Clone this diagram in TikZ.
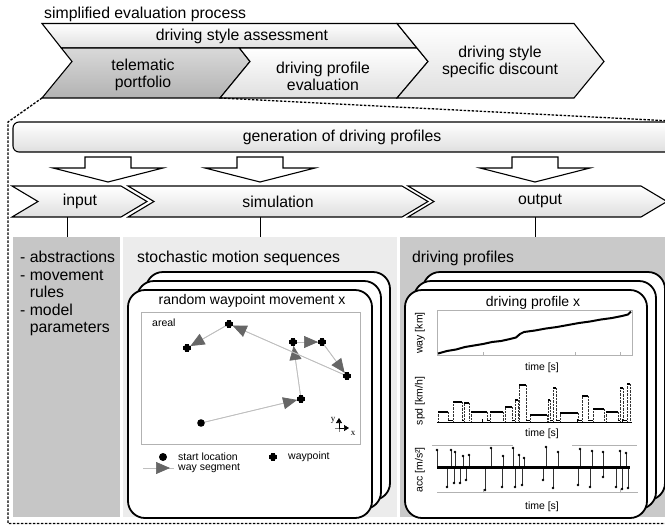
\documentclass[tikz,border=0pt]{standalone}
\usepackage{fontspec}
\setmainfont{Liberation Sans}
\newfontfamily\axisfont{Liberation Serif}
\usetikzlibrary{arrows.meta}
\newcommand{\bigtext}{\fontsize{15.8}{17.5}\selectfont}
\newcommand{\midtext}{\fontsize{14}{16}\selectfont}
\newcommand{\smalltext}{\fontsize{10.5}{12}\selectfont}

\begin{document}
\begin{tikzpicture}[x=1pt, y=-1pt, every node/.append style={text=black, font=\bigtext, inner sep=0pt},
	chev/.style={draw, line width=1.1pt, top color=white, bottom color=gray!25},
	darkchev/.style={draw, line width=1.1pt, top color=gray!30, bottom color=gray!60},
	blockarr/.style={draw, line width=1.1pt, fill=white},
	zoomline/.style={line width=1.3pt, dash pattern=on 2.5pt off 1.5pt},
	panel/.style={anchor=north west, inner sep=0pt, outer sep=0pt},
	card/.style={draw, line width=1.8pt, fill=white, rounded corners=17pt},
	seg/.style={draw=gray!50, line width=0.7pt, postaction={draw=gray!50, shorten >=4pt, -{Triangle[length=14pt, width=12pt, color=gray!80!black]}}},
	wayp/.pic={\fill (-4.2,-1.9) rectangle (4.2,1.9); \fill (-1.9,-4.2) rectangle (1.9,4.2); \fill (0,0) circle (3.4);},
	thinax/.style={draw=gray!60, line width=0.6pt},
	small/.style={font=\smalltext}]
\useasboundingbox (0,0) rectangle (665,528);

	\node[anchor=west] (title) at (44,14) {simplified evaluation process};
	\draw[chev] (42,23.5) -- (397,23.5) -- (417,48) -- (61.3,48) -- cycle;
	\draw[darkchev] (61.3,48) -- (72,61.5) -- (42,98) -- (220,98) -- (250,61.5) -- (239.4,48) -- cycle;
	\draw[chev] (239.4,48) -- (250,61.5) -- (220,98) -- (397,98) -- (428,61.5) -- (417,48) -- cycle;
	\draw[chev] (397,23.5) -- (574,23.5) -- (604,61.5) -- (574,98) -- (397,98) -- (428,61.5) -- cycle;
	\node (dsa) at (242,36.5) {driving style assessment};
	\node[align=center] (tele) at (143,75) {telematic\\portfolio};
	\node[align=center] (dpe) at (323,76.5) {driving profile\\evaluation};
	\node[align=center] (dssd) at (500,62) {driving style\\specific discount};

	\coordinate (zl) at (42,98);
	\coordinate (zr) at (220,98);
	\draw[zoomline] (zl) -- (8,122) -- (8,523.5) -- (665,523.5);
	\draw[zoomline] (zr) -- (672,121);

	\node[panel, draw, line width=1.1pt, rounded corners=6pt, top color=white, bottom color=gray!25, minimum width=680pt, minimum height=30pt] (gen) at (13,122) {};
	\node (gentext) at (342,137.5) {generation of driving profiles};

	\foreach \cx in {108, 260, 535}
	{
		\draw[blockarr] (\cx-23,157) -- (\cx+23,157) -- (\cx+23,168) -- (\cx+55,168) -- (\cx,182) -- (\cx-55,168) -- (\cx-23,168) -- cycle;
	}
	\foreach \l/\r in {12/121, 128/402, 408/641}
	{
		\draw[chev] (\l,186) -- (\r,186) -- (\r+26,201.5) -- (\r,217) -- (\l,217) -- (\l+26,201.5) -- cycle;
	}
	\node (inl) at (80,201.5) {input};
	\node (siml) at (278,201.5) {simulation};
	\node (outl) at (540,201.5) {output};

	\node[panel, fill=gray!45, minimum width=107pt, minimum height=280pt] (inpanel) at (13,237) {};
	\node[panel, fill=gray!15, minimum width=274pt, minimum height=280pt] (simpanel) at (123,237) {};
	\node[panel, fill=gray!42, minimum width=265pt, minimum height=280pt] (outpanel) at (400,237) {};
	\foreach \x/\p in {67/inpanel, 260/simpanel, 535/outpanel}
	{
		\coordinate (c\p) at (\x,217);
		\draw[line width=1pt] (c\p) -- (c\p |- \p.north);
	}

	\node[anchor=north west, align=left] (inlist) at (20,251) {- abstractions\\- movement\\\hphantom{- }rules\\- model\\\hphantom{- }parameters};

	% stochastic motion sequences
	\node[anchor=west] (smstitle) at (137,258) {stochastic motion sequences};
	\foreach \d in {18, 9, 0}
	{
		\draw[card] (128+\d,290-\d) rectangle (372+\d,518-\d);
	}
	\node[font=\midtext] (rwmtitle) at (252,301) {random waypoint movement x};
	\draw[thinax, fill=white] (141,312) rectangle (360,444);
	\node[small, anchor=west] (areal) at (152,323) {areal};

	\coordinate (s) at (201,423);
	\foreach \n/\x/\y in {w1/301/399, w2/293/342, w3/322/342, w4/347/376, w5/229/324, w6/187/348}
		\coordinate (\n) at (\x,\y);
	\foreach \a/\b in {s/w1, w1/w2, w2/w3, w3/w4, w4/w5, w5/w6}
		\draw[seg] (\a) -- (\b);
	\fill (s) circle (3.8);
	\foreach \n in {w1, w2, w3, w4, w5, w6}
		\pic at (\n) {wayp};

	\coordinate (ax) at (339,428);
	\draw[gray, line width=0.5pt] (ax) +(-4,0) -- +(4,0) +(0,-4) -- +(0,4);
	\draw[line width=0.6pt, -{Triangle[length=5pt, width=6pt]}] (ax) -- +(0,-10);
	\draw[line width=0.6pt, -{Triangle[length=5pt, width=6pt]}] (ax) -- +(10,0);
	\node[font=\axisfont\fontsize{9}{10}\selectfont] (ay) at (333,420) {y};
	\node[font=\axisfont\fontsize{9}{10}\selectfont] (axl) at (353,433) {x};

	\coordinate (lstart) at (163,457);
	\fill (lstart) circle (4);
	\node[small, anchor=west] (leg1) at (178,457) {start location};
	\pic at (273,457) {wayp};
	\node[small, anchor=west] (leg2) at (288,457) {waypoint};
	\coordinate (la) at (143,468);
	\coordinate (lb) at (174,468);
	\draw[seg] (la) -- (lb);
	\node[small, anchor=west] (leg3) at (178,468) {way segment};

	% driving profiles
	\node[anchor=west] (dptitle) at (412,258) {driving profiles};
	\foreach \d in {18, 9, 0}
	{
		\draw[card] (405+\d,290-\d) rectangle (647+\d,518-\d);
	}
	\node[font=\midtext] (dpxtitle) at (533,303) {driving profile x};

	\node[small, rotate=90] (wayl) at (420,333) {way [km]};
	\node[small, rotate=90] (spdl) at (420,401) {spd [km/h]};
	\node[small, rotate=90] (accl) at (420,470) {acc [m/s²]};
	\foreach \y/\n in {368/t1, 434/t2, 507/t3}
		\node[small] (\n) at (542,\y) {time [s]};

	\draw[thinax] (437,310) rectangle (632,355);
	\foreach \tk in {483, 575, 620}
		\draw[thinax] (\tk,355) -- (\tk,352);
	\draw[line width=2pt, line join=round] (438,353.5) -- (447,351) -- (456,349.5) -- (465,347) -- (474,345.5) -- (483,344) -- (492,342) -- (501,341) -- (510,339) -- (516,337.5) -- (520,334) -- (524,332) -- (535,330.5) -- (546,328.5) -- (557,327) -- (568,325) -- (579,323) -- (590,321.5) -- (601,319.5) -- (612,318) -- (622,316) -- (628,314.5) -- (631,311.5);

	\draw[line width=0.8pt] (437,422) -- (632,422);
	\foreach \tk in {482, 577, 622}
		\draw (\tk,422) -- (\tk,419);
	\foreach \a/\b/\v in {438/448/412, 453/462/402, 464/469/403, 471/487/412, 490/503/412, 505/512/407, 515/518/400, 519/526/385, 530/547/415, 548/550/400, 553/556/388, 560/578/413, 582/588/396, 593/604/409, 606/618/412, 620/623/388, 627/630/384}
	{
		\draw[densely dotted, line width=0.4pt, gray!40!black] (\a,421) -- (\a,\v) (\b,\v) -- (\b,421);
		\draw[line width=1.8pt] (\a,\v) -- (\b,\v);
	}
	\foreach \a/\b in {448/453, 462/464, 487/490, 512/515, 526/530, 550/553, 556/560, 578/582, 588/593, 618/620, 623/627}
		\draw[line width=1.8pt] (\a,420.5) -- (\b,420.5);

	\draw[thinax] (432,445) -- (513,445) (572,445) -- (637,445);
	\draw[thinax] (437,492) -- (638,492);
	\foreach \tk in {483, 620}
		\draw[thinax] (\tk,492) -- (\tk,489);
	\foreach \x/\y in {437/450, 451/450, 455/452, 463/456, 469/455, 491/448, 503/456, 513/448, 519/455, 524/458, 546/447, 558/452, 580/449, 592/451, 603/452, 620/451, 626/453, 447/487, 454/483, 460/483, 466/480, 485/490, 502/487, 515/487, 522/485, 543/480, 553/488, 578/485, 590/487, 603/477, 616/487, 622/489, 628/488}
	{
		\draw[line width=0.6pt, gray!40!black] (\x,467) -- (\x,\y);
		\fill (\x,\y) circle (1.4);
	}
	\draw[line width=3pt] (437,467) -- (630,467);

\end{tikzpicture}
\end{document}
